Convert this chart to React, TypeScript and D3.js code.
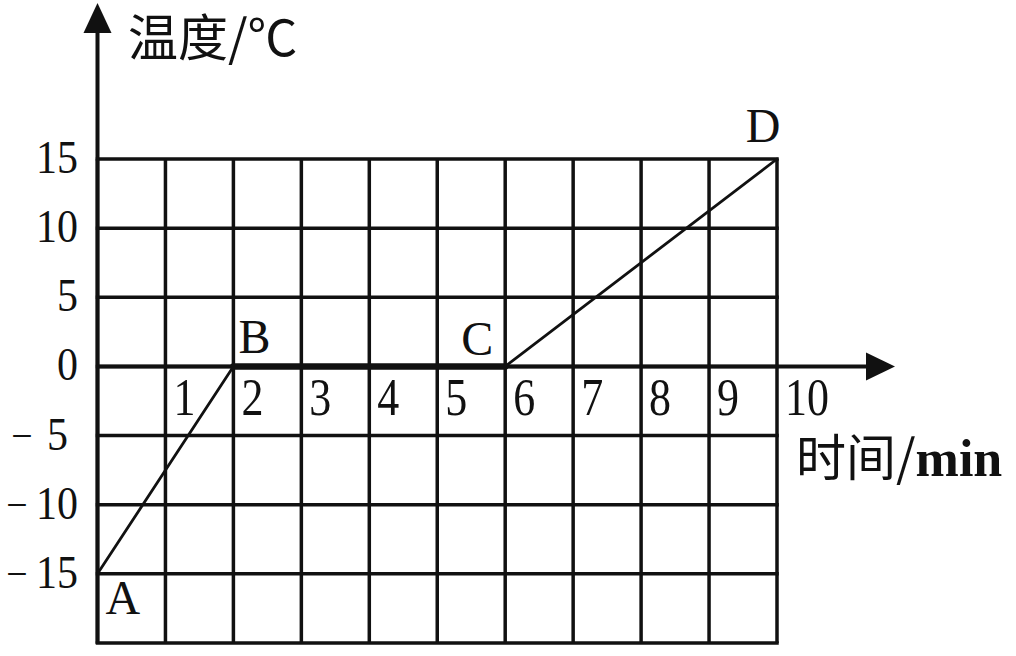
import React from "react";
import * as d3 from "d3";

// ---- data ----
const times = [0, 2, 6, 10];
const temps = [-15, 0, 0, 15];
const pointNames = ["A", "B", "C", "D"];
const xTickValues = [1, 2, 3, 4, 5, 6, 7, 8, 9, 10];
const yTickValues = [15, 10, 5, 0, -5, -10, -15];
const xGridValues = [0, 1, 2, 3, 4, 5, 6, 7, 8, 9, 10];
const yGridValues = [15, 10, 5, 0, -5, -10, -15, -20];
const yTitle = "温度/℃";
const xTitleCJK = "时间/";
const xTitleUnit = "min";

// ---- layout ----
const W = 1016;
const H = 656;
const INK = "#111";
const SERIF = "'Liberation Serif', 'Times New Roman', serif";
const CJK = "'Noto Sans CJK SC', 'Noto Sans', sans-serif";
const labelOffsets = [
  { dx: 8, dy: 40, anchor: "start" },
  { dx: 5, dy: -13, anchor: "start" },
  { dx: -12, dy: -11, anchor: "end" },
  { dx: -14, dy: -17, anchor: "middle" },
];

export default function App() {
  const x = d3.scaleLinear().domain([0, 10]).range([97.5, 777]);
  const y = d3.scaleLinear().domain([-20, 15]).range([643, 159]);
  const x0 = x(0);
  const y0 = y(0);

  const segs = d3.pairs(times.map((t, i) => [t, temps[i]] as [number, number]));
  const line = d3.line<[number, number]>().x((d) => x(d[0])).y((d) => y(d[1]));

  const yArrowTip = 3;
  const xArrowTip = 895;

  return (
    <svg
      width={W}
      height={H}
      viewBox={`0 0 ${W} ${H}`}
      style={{ position: "absolute", left: 0, top: 0, background: "#fff" }}
    >
      <rect x={0} y={0} width={W} height={H} fill="#fff" />
      {/* grid */}
      {xGridValues.map((v) => (
        <line key={"vx" + v} x1={x(v)} x2={x(v)} y1={y(15)} y2={y(-20)} stroke={INK} strokeWidth={3.5} />
      ))}
      {yGridValues.map((v) => (
        <line key={"hy" + v} x1={x0} x2={x(10)} y1={y(v)} y2={y(v)} stroke={INK} strokeWidth={3.5} strokeLinecap="square" />
      ))}
      {/* axes */}
      <line x1={x0} x2={x0} y1={y(-20) + 1} y2={yArrowTip + 20} stroke={INK} strokeWidth={4} />
      <path d={`M${x0},${yArrowTip} L${x0 - 14},${yArrowTip + 30} L${x0 + 14},${yArrowTip + 30} Z`} fill={INK} />
      <line x1={x0} x2={xArrowTip - 20} y1={y0} y2={y0} stroke={INK} strokeWidth={4} />
      <path d={`M${xArrowTip},${y0} L${xArrowTip - 29},${y0 - 14} L${xArrowTip - 29},${y0 + 14} Z`} fill={INK} />

      {/* data line */}
      {segs.map(([a, b], i) => (
        <path
          key={"seg" + i}
          d={line([a, b]) || ""}
          fill="none"
          stroke={INK}
          strokeWidth={a[1] === b[1] ? 6.5 : 2.8}
          strokeLinecap="round"
        />
      ))}

      {/* point labels */}
      {times.map((t, i) => (
        <text
          key={"pt" + i}
          x={x(t) + labelOffsets[i].dx}
          y={y(temps[i]) + labelOffsets[i].dy}
          textAnchor={labelOffsets[i].anchor as any}
          fontFamily={SERIF}
          fontSize={48}
          fill={INK}
        >
          {pointNames[i]}
        </text>
      ))}

      {/* x tick labels */}
      {xTickValues.map((v) => (
        <text
          key={"xt" + v}
          transform={`translate(${x(v) + 8},${y0 + 49}) scale(1,1.2)`}
          fontFamily={SERIF}
          fontSize={44}
          fill={INK}
        >
          {String(v)}
        </text>
      ))}

      {/* y tick labels */}
      {yTickValues.map((v) => (
        <g key={"yt" + v}>
          <text
            transform={`translate(${v === -5 ? 68 : 78},${y(v) + 14}) scale(1,1.11)`}
            textAnchor="end"
            fontFamily={SERIF}
            fontSize={42}
            fill={INK}
          >
            {String(Math.abs(v))}
          </text>
          {v < 0 && (
            <text
              transform={`translate(${v === -5 ? 22 : 17},${y(v) + 14}) scale(1,1.11)`}
              textAnchor="middle"
              fontFamily={SERIF}
              fontSize={38}
              fill={INK}
            >
              −
            </text>
          )}
        </g>
      ))}

      {/* axis titles */}
      <text x={128} y={56} fontFamily={CJK} fontSize={50} fill={INK}>
        {yTitle}
      </text>
      <text x={796} y={476} fill={INK}>
        <tspan fontFamily={CJK} fontSize={50}>{xTitleCJK}</tspan>
        <tspan fontFamily={SERIF} fontSize={52} fontWeight="bold">{xTitleUnit}</tspan>
      </text>
    </svg>
  );
}
